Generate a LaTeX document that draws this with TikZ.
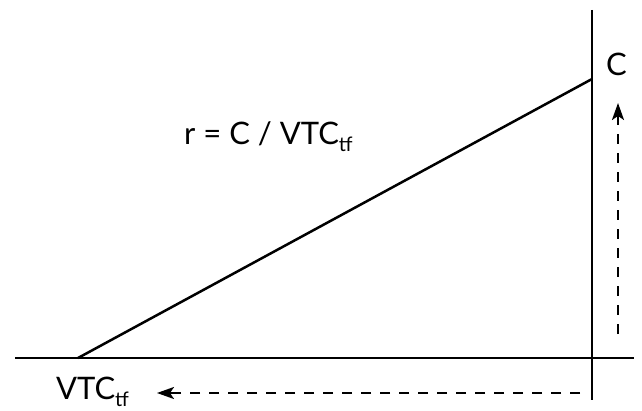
\documentclass[tikz,border=0pt]{standalone}
\usepackage{fontspec}
\setmainfont{Lato}
\usetikzlibrary{arrows.meta}
\newcommand{\subtf}{\raisebox{-7pt}{\fontsize{20}{22}\selectfont tf}}
\begin{document}
\begin{tikzpicture}[x=1pt,y=-1pt,
  axis/.style={line width=2.8pt},
  graphline/.style={line width=2.5pt},
  dashline/.style={line width=2.2pt,dash pattern=on 10pt off 9pt},
  tip/.style={-{Stealth[length=17pt,width=12pt,inset=4pt]}},
  lbl/.style={font=\fontsize{31}{36}\selectfont,inner sep=0pt}]
\useasboundingbox (0,0) rectangle (642,411);
\coordinate (hl) at (15,358);
\coordinate (hr) at (634,358);
\coordinate (vt) at (592,10);
\coordinate (vb) at (592,400);
\coordinate (o) at (78,358);
\coordinate (p) at (592,79);
\draw[axis] (hl) -- (hr);
\draw[axis] (vt) -- (vb);
\draw[graphline] (o) -- (p);
\coordinate (d1s) at (580,393);
\coordinate (d1m) at (172,393);
\coordinate (d1e) at (157,393);
\draw[dashline] (d1s) -- (d1m);
\draw[line width=2.2pt,tip] (d1m) -- (d1e);
\coordinate (d2s) at (618,334);
\coordinate (d2m) at (618,118);
\coordinate (d2e) at (618,103);
\draw[dashline] (d2s) -- (d2m);
\draw[line width=2.2pt,tip] (d2m) -- (d2e);
\node[lbl,anchor=base west] (c) at (606,76) {C};
\node[lbl,anchor=base west] (vtc) at (56,399) {VTC\subtf};
\node[lbl,anchor=base west] (r) at (184,145) {r = C / VTC\subtf};
\end{tikzpicture}
\end{document}
